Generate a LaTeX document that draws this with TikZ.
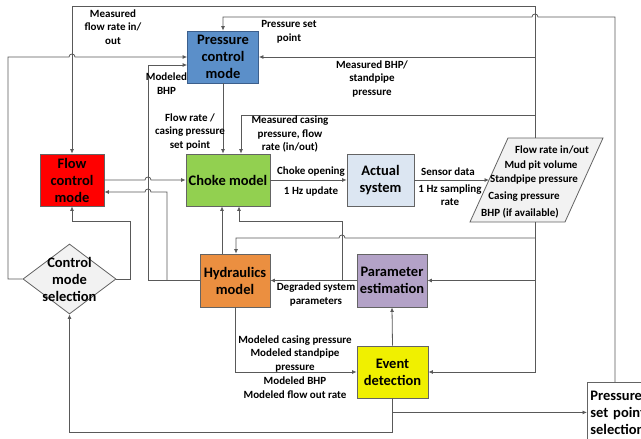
\documentclass[tikz,border=0pt]{standalone}
\usepackage{fontspec}
\setmainfont{Carlito}
\usetikzlibrary{arrows.meta,shapes.geometric}
\definecolor{lc}{RGB}{89,89,89}
\definecolor{bd}{RGB}{100,100,100}
\definecolor{pcmc}{RGB}{91,143,201}
\definecolor{pcmb}{RGB}{60,95,140}
\definecolor{fcmc}{RGB}{255,0,0}
\definecolor{chc}{RGB}{146,208,80}
\definecolor{asc}{RGB}{220,230,242}
\definecolor{hyc}{RGB}{235,143,64}
\definecolor{pec}{RGB}{179,162,199}
\definecolor{edc}{RGB}{240,240,0}
\definecolor{dmc}{RGB}{242,242,242}
\begin{document}
\begin{tikzpicture}[x=1pt,y=-1pt,
  box/.style={draw=bd, line width=0.8pt, font=\bfseries\fontsize{14.5}{17}\selectfont, align=center, inner sep=0pt},
  lab/.style={font=\bfseries\fontsize{11}{13.5}\selectfont, align=center, inner sep=0pt},
  wire/.style={draw=lc, line width=0.8pt},
  arr/.style={draw=lc, line width=0.8pt, -{Latex[length=4.5pt,width=4pt]}}]
\useasboundingbox[fill=white] (0,0) rectangle (641,439);
\clip (0,0) rectangle (641,439);
% boxes
\node[box, draw=pcmb, fill=pcmc, minimum width=71pt, minimum height=52pt] (pcm) at (223,57) {Pressure\\control\\mode};
\node[box, fill=fcmc, minimum width=64pt, minimum height=52pt] (fcm) at (72,180) {Flow\\control\\mode};
\node[box, fill=chc, minimum width=84pt, minimum height=52pt] (choke) at (228,180) {Choke model};
\node[box, fill=asc, minimum width=67pt, minimum height=52pt] (actual) at (380.5,180) {Actual\\system};
\node[box, fill=hyc, minimum width=70pt, minimum height=53pt] (hyd) at (235,280.5) {Hydraulics\\model};
\node[box, fill=pec, minimum width=70pt, minimum height=53pt] (pe) at (392,280.5) {Parameter\\estimation};
\node[box, fill=edc, minimum width=71pt, minimum height=52pt] (ed) at (392.5,372) {Event\\detection};
\node[box, fill=white, anchor=north west, minimum width=80pt, minimum height=60pt, text width=74pt, align=left, inner xsep=3pt] (psp) at (587,382) {Pressure\\set point\\selection};
\node[draw=bd, fill=dmc, diamond, minimum width=93pt, minimum height=70pt, inner sep=0pt, line width=0.8pt] (cms) at (69.5,279) {};
\node[box, draw=none] (cmst) at (cms.center) {Control\\mode\\selection};
% data parallelogram
\draw[draw=bd, fill=dmc, line width=0.8pt] (470,222) -- (565,222) -- (603,138) -- (508,138) -- cycle;
\coordinate (dataT) at (535,138);
\coordinate (dataB) at (535,222);
\coordinate (dataL) at (489,180);
\node[lab] (d1) at (552,150) {Flow rate in/out};
\node[lab] (d2) at (541,166) {Mud pit volume};
\node[lab] (d3) at (534,180) {Standpipe pressure};
\node[lab] (d4) at (524,197) {Casing pressure};
\node[lab] (d5) at (520,213) {BHP (if available)};
% connectors
\draw[arr] (dataT) -- (535,6) -| (fcm.north);
\draw[arr] ([xshift=28pt]psp.north west) -- (615,17) -- (538,17) .. controls (538,13) and (532,13) .. (532,17) -- (223,17) -- (pcm.north);
\draw[arr] (pcm.east -| dataT) -- (pcm.east);
\draw[arr] (535,115) -| ([xshift=13pt]choke.north);
\draw[arr] (pcm.south) -- (pcm.south |- choke.north);
\draw[arr] (fcm.east) -- (145,180) .. controls (145,176) and (151,176) .. (151,180) -- (choke.west);
\draw[arr] (hyd.west) -- (148,280.5) -- (148,65) -- ([yshift=-8pt]pcm.west);
\draw[arr] (167,280.5) -- (167,192) -- (151,192) .. controls (151,188) and (145,188) .. (145,192) -- ([yshift=-12pt]fcm.east);
\draw[arr] (cms.west) -- (8,279) -- (8,57) -- (69,57) .. controls (69,53) and (75,53) .. (75,57) -- (pcm.west);
\draw[arr] (cms.east) -- (130,279) -- (130,221) -| (fcm.south);
\draw[arr] (ed.south) -- (392.5,432) -| (cms.south);
\draw[arr] (ed.south |- psp.west) -- (psp.west);
\draw[arr] (ed.north) -- (pe.south);
\draw[arr] (hyd.south) |- (ed.west);
\draw[arr] (dataB) |- (ed.east);
\draw[arr] (pe.east -| dataB) -- (pe.east);
\draw[arr] (535,238) -- (345,238) .. controls (345,234) and (339,234) .. (339,238) -- (236,238) -- ([xshift=1pt]hyd.north);
\draw[arr] (pe.west) -- (hyd.east);
\draw[arr] (342,280.5) -- (342,221) -| ([xshift=11pt]choke.south);
\draw[arr] ([xshift=-13pt]hyd.north) -- ([xshift=-13pt]hyd.north |- choke.south);
\draw[arr] (choke.east) -- (actual.west);
\draw[arr] (actual.east) -- (dataL);
% labels
\node[lab] (l1) at (113,27) {Measured\\flow rate in/\\out};
\node[lab] (l2) at (289,32) {Pressure set\\point};
\node[lab] (l3) at (166.5,83.5) {Modeled\\BHP};
\node[lab] (l4) at (372,79) {Measured BHP/\\standpipe\\pressure};
\node[lab] (l5) at (190,132) {Flow rate /\\casing pressure\\set point};
\node[lab] (l6) at (290,134) {Measured casing\\pressure, flow\\rate (in/out)};
\node[lab] (l7) at (311,172) {Choke opening};
\node[lab] (l8) at (311,192) {1 Hz update};
\node[lab] (l9) at (448,172) {Sensor data};
\node[lab] (l10) at (450,195) {1 Hz sampling\\rate};
\node[lab] (l11) at (316,294.5) {Degraded system\\parameters};
\node[lab] (l12) at (295,354) {Modeled casing pressure\\Modeled standpipe\\pressure};
\node[lab] (l13) at (295,387.5) {Modeled BHP\\Modeled flow out rate};
\end{tikzpicture}
\end{document}
